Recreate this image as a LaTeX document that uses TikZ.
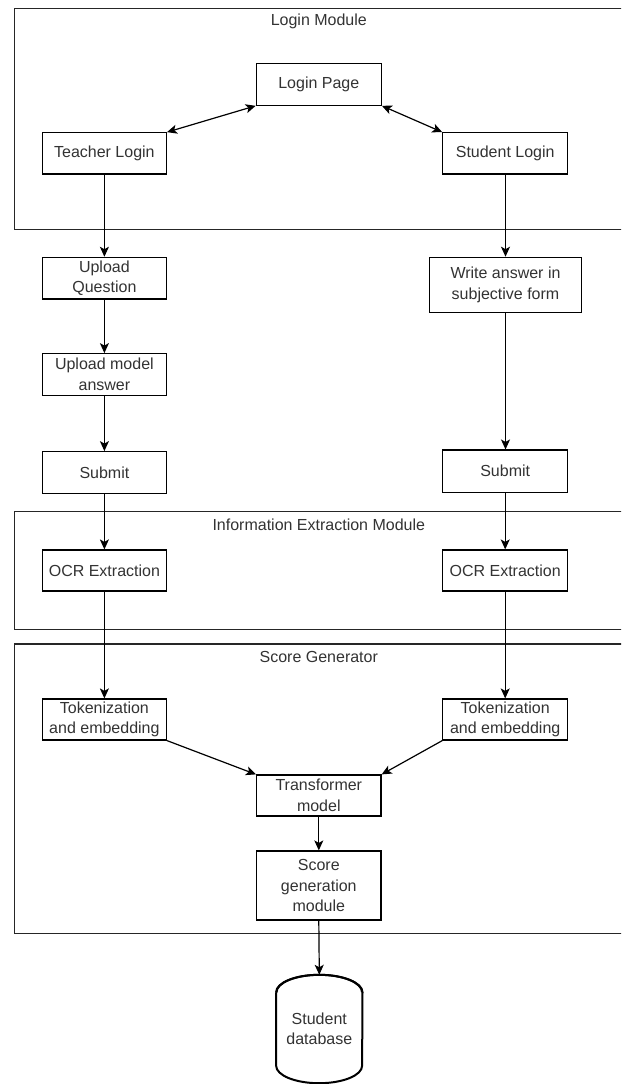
\documentclass[tikz,border=0pt]{standalone}
\usepackage{fontspec}
\setmainfont{Liberation Sans}
\usetikzlibrary{arrows.meta}
\tikzset{
  box/.style={draw=black, line width=1.2pt, inner sep=0pt, align=center, text=black!80,
    font=\fontsize{16}{20.5}\selectfont},
  module/.style={draw=black!85, line width=1.4pt, inner sep=0pt},
  modtitle/.style={text=black!80, font=\fontsize{16}{20}\selectfont, inner sep=0pt},
  tip/.style={},
  arr/.style={line width=1.2pt, -{Stealth[length=10pt,width=9pt,inset=2.5pt]}},
  darr/.style={line width=1.2pt, {Stealth[length=10pt,width=9pt,inset=2.5pt]}-{Stealth[length=10pt,width=9pt,inset=2.5pt]}},
  dbtext/.style={inner sep=0pt, align=center, text=black!80, font=\fontsize{16}{20.5}\selectfont}
}
\begin{document}
\begin{tikzpicture}[x=1pt,y=-1pt]
\clip (0,0) rectangle (621,1084);
\fill[white] (0,0) rectangle (621,1084);

% module containers
\node[module, minimum width=625.3pt, minimum height=220.5pt] (loginmod) at (327.35,119) {};
\node[modtitle] (logintitle) at (318.8,21.7) {Login Module};
\node[module, minimum width=625.3pt, minimum height=117.6pt] (infomod) at (327.35,570.5) {};
\node[modtitle] (infotitle) at (318.8,525) {Information Extraction Module};
\node[module, minimum width=625.3pt, minimum height=289.3pt] (scoremod) at (327.35,788.65) {};
\node[modtitle] (scoretitle) at (318.8,656.7) {Score Generator};

% boxes
\node[box, minimum width=125pt, minimum height=42pt] (loginpage) at (318.8,84.2) {Login Page};
\node[box, minimum width=124pt, minimum height=41.3pt] (teacher) at (104.4,153.4) {Teacher Login};
\node[box, minimum width=124.7pt, minimum height=41.3pt] (student) at (505.2,153.4) {Student Login};
\node[box, minimum width=124pt, minimum height=41.7pt] (uploadq) at (104.4,278.2) {Upload\\Question};
\node[box, minimum width=151.7pt, minimum height=55pt] (write) at (505.5,284.8) {Write answer in\\subjective form};
\node[box, minimum width=124pt, minimum height=41.6pt] (uploadm) at (104.4,374.5) {Upload model\\answer};
\node[box, minimum width=124pt, minimum height=41.6pt] (submitL) at (104.4,472.5) {Submit};
\node[box, minimum width=124.7pt, minimum height=42.3pt] (submitR) at (505.2,471.2) {Submit};
\node[box, minimum width=124.5pt, minimum height=41pt] (ocrL) at (104.4,570.5) {OCR Extraction};
\node[box, minimum width=124.7pt, minimum height=41pt] (ocrR) at (505.2,570.5) {OCR Extraction};
\node[box, minimum width=124pt, minimum height=41pt] (tokL) at (104.4,719.5) {Tokenization\\and embedding};
\node[box, minimum width=124.7pt, minimum height=41pt] (tokR) at (505.2,719.5) {Tokenization\\and embedding};
\node[box, minimum width=124.5pt, minimum height=41pt] (trans) at (318.8,795.5) {Transformer\\model};
\node[box, minimum width=124.5pt, minimum height=69pt] (score) at (318.8,885.5) {Score\\generation\\module};

% database cylinder
\node[dbtext, minimum width=86pt, minimum height=108pt] (db) at (319.3,1029) {Student\\database};
\draw[line width=2pt]
  ([yshift=-17.5pt]db.north west) -- ([yshift=17.5pt]db.south west)
  arc[start angle=180, end angle=360, x radius=43pt, y radius=17.5pt]
  -- ([yshift=-17.5pt]db.north east)
  arc[start angle=0, end angle=180, x radius=43pt, y radius=17.5pt];
\draw[line width=2pt] ([yshift=-17.5pt]db.north west)
  arc[start angle=180, end angle=360, x radius=43pt, y radius=-17.5pt];

% connectors
\draw[darr] (loginpage.south west) -- (teacher.north east);
\draw[darr] (loginpage.south east) -- (student.north west);
\draw[arr] (teacher) -- (uploadq);
\draw[arr] (uploadq) -- (uploadm);
\draw[arr] (uploadm) -- (submitL);
\draw[arr] (submitL) -- (ocrL);
\draw[arr] (ocrL) -- (tokL);
\draw[arr] (student.south -| write.north) -- (write.north);
\draw[arr] (write.south) -- (write.south |- submitR.north);
\draw[arr] (submitR) -- (ocrR);
\draw[arr] (ocrR) -- (tokR);
\draw[arr] (tokL.south east) -- (trans.north west);
\draw[arr] (tokR.south west) -- (trans.north east);
\draw[arr] (trans) -- (score);
\draw[arr] (score.south) -- (db.north);
\end{tikzpicture}
\end{document}
